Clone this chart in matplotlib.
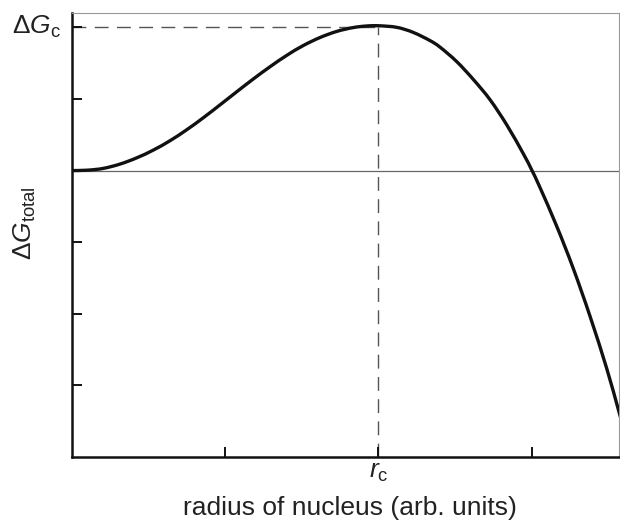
import matplotlib
matplotlib.use("Agg")
import matplotlib.pyplot as plt
from matplotlib.path import Path
from matplotlib.patches import PathPatch

# Curve values (radius in arb. units, ΔG_total in arb. units)
radius = [0.0, 0.10, 0.204, 0.313, 0.422, 0.531, 0.640, 0.749, 0.855, 0.966,
          1.075, 1.181, 1.292, 1.402, 1.508, 1.619, 1.728, 1.834, 1.92, 2.0,
          2.119, 2.226, 2.337, 2.402, 2.511, 2.620, 2.728, 2.838, 2.946, 3.0,
          3.055, 3.164, 3.272, 3.381, 3.490, 3.566, 3.60]
dG_total = [0.0, 0.005, 0.03, 0.09, 0.177, 0.286, 0.417, 0.57, 0.734, 0.917,
            1.10, 1.275, 1.449, 1.609, 1.744, 1.858, 1.943, 1.996, 2.018, 2.022,
            2.00, 1.93, 1.814, 1.723, 1.521, 1.27, 0.99, 0.636, 0.233, 0.01,
            -0.24, -0.78, -1.37, -2.035, -2.765, -3.34, -3.60]

r_c = 2.0
dG_c = 2.0
x_ticks = [1, 2, 3]
y_ticks = [2, 1, 0, -1, -2, -3]

plt.rcParams['font.family'] = ['Liberation Sans', 'DejaVu Sans']
plt.rcParams['mathtext.fontset'] = 'custom'
plt.rcParams['mathtext.rm'] = 'Liberation Sans'
plt.rcParams['mathtext.it'] = 'Liberation Sans:italic'

fig = plt.figure(figsize=(6.2, 5.26), dpi=100)
W, H = 620, 526
left, right, top, bottom = 72, 619, 13, 457
ax = fig.add_axes([left / W, 1 - bottom / H, (right - left) / W, (bottom - top) / H])

ax.set_xlim(0, 3.57)
ax.set_ylim(-4, 2.2)

# zero line
ax.axhline(0, color='#666666', lw=0.9, zorder=1)
# dashed guide lines
ax.plot([0, r_c], [dG_c, dG_c], color='#555555', lw=1.0, dashes=(10, 6), zorder=1)
ax.plot([r_c, r_c], [-4, dG_c], color='#555555', lw=1.0, dashes=(10, 6), zorder=1)

# smooth curve through the read points (Catmull-Rom rendered as cubic Beziers)
pts = list(zip(radius, dG_total))
verts = [pts[0]]
codes = [Path.MOVETO]
n = len(pts)
for i in range(n - 1):
    p0 = pts[i - 1] if i > 0 else pts[i]
    p1 = pts[i]
    p2 = pts[i + 1]
    p3 = pts[i + 2] if i + 2 < n else pts[i + 1]
    c1 = (p1[0] + (p2[0] - p0[0]) / 6, p1[1] + (p2[1] - p0[1]) / 6)
    c2 = (p2[0] - (p3[0] - p1[0]) / 6, p2[1] - (p3[1] - p1[1]) / 6)
    verts += [c1, c2, p2]
    codes += [Path.CURVE4] * 3
ax.add_patch(PathPatch(Path(verts, codes), facecolor='none', edgecolor='#111111',
                       lw=2.4, capstyle='round', joinstyle='round', zorder=3))

for s in ['left', 'bottom']:
    ax.spines[s].set_linewidth(1.8)
    ax.spines[s].set_color('#111111')
for s in ['top', 'right']:
    ax.spines[s].set_linewidth(0.8)
    ax.spines[s].set_color('#999999')

ax.set_xticks(x_ticks)
ax.set_yticks(y_ticks)
ax.set_xticklabels([])
ax.set_yticklabels([])
ax.tick_params(direction='in', length=7, width=1.4, color='#111111')

fs = 19
ax.text(-0.07, dG_c, r'$\Delta G_{\rm c}$', ha='right', va='center', fontsize=fs,
        color='#222222')
fig.text(379 / W, 1 - 472 / H, r'$r_{\rm c}$', ha='center', va='center', fontsize=fs,
         color='#222222')

fig.text(350 / W, 1 - 508 / H, 'radius of nucleus (arb. units)', ha='center',
         va='center', fontsize=fs, color='#222222')
fig.text(25 / W, 1 - 223 / H, r'$\Delta G_{\rm total}$', ha='center', va='center',
         rotation=90, fontsize=fs, color='#222222')

fig.savefig('out.png', dpi=100)
